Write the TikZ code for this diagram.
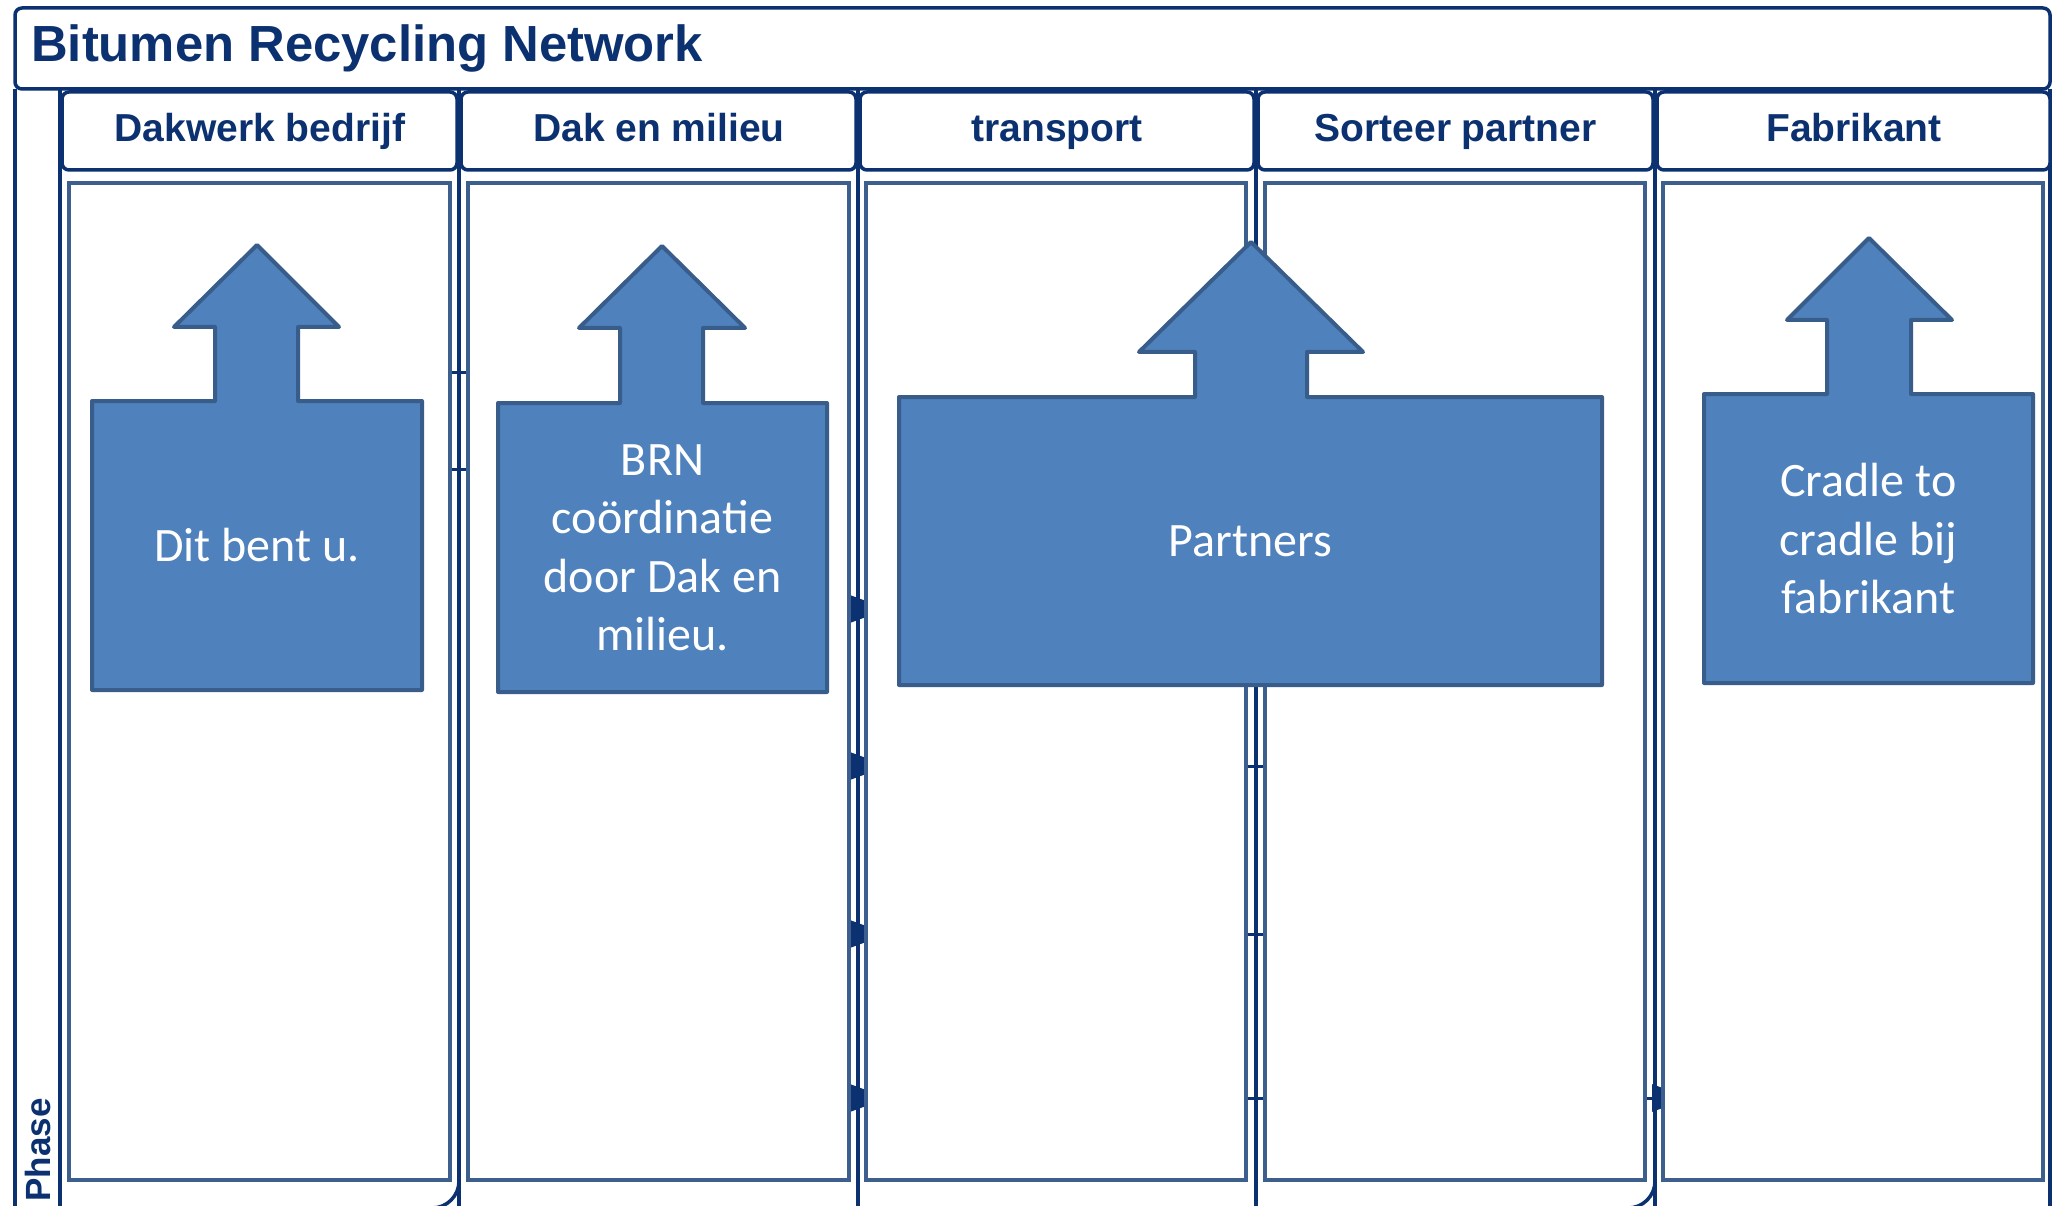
\documentclass[tikz,border=0pt]{standalone}
\usepackage{fontspec}
\setmainfont{Liberation Sans}
\newfontfamily\calib{Carlito}
\usetikzlibrary{arrows.meta}
\definecolor{navy}{HTML}{0B3170}
\definecolor{steel}{HTML}{3D5F8D}
\definecolor{cfill}{HTML}{4F81BD}
\definecolor{cline}{HTML}{385D8A}
\begin{document}
\begin{tikzpicture}[x=1pt,y=-1pt,
  laneline/.style={draw=navy,line width=3.5pt},
  hdr/.style={draw=navy,line width=3.5pt,rounded corners=7pt,fill=white},
  inbox/.style={draw=steel,line width=4.5pt,fill=white},
  callout/.style={draw=cline,line width=4pt,fill=cfill,line join=round},
  ctext/.style={text=white,font=\calib\fontsize{48}{58.5}\selectfont,align=center,inner sep=0pt},
  htext/.style={text=navy,font=\bfseries\fontsize{39}{46}\selectfont,anchor=base,inner sep=0pt},
  link/.style={draw=navy,line width=3pt},
  linkarrow/.style={link,-{Triangle[length=38pt,width=27pt]}},
]
\useasboundingbox (0,0) rectangle (2054,1206);
\fill[white] (0,0) rectangle (2054,1206);
\clip (0,0) rectangle (2054,1206);

% hidden connectors (only the parts between lanes show)
\coordinate (a1s) at (300,372);  \coordinate (a1e) at (620,372);
\coordinate (a2s) at (300,469);  \coordinate (a2e) at (620,469);
\coordinate (b1s) at (700,609);  \coordinate (b1e) at (888,609);
\coordinate (b2s) at (700,766);  \coordinate (b2e) at (888,766);
\coordinate (b3s) at (700,934);  \coordinate (b3e) at (888,934);
\coordinate (b4s) at (700,1098); \coordinate (b4e) at (888,1098);
\coordinate (c1s) at (1100,766); \coordinate (c1e) at (1400,766);
\coordinate (c2s) at (1100,934); \coordinate (c2e) at (1400,934);
\coordinate (c3s) at (1100,1098);\coordinate (c3e) at (1400,1098);
\coordinate (d1s) at (1500,1098);\coordinate (d1e) at (1690,1098);
\draw[link] (a1s) -- (a1e);
\draw[link] (a2s) -- (a2e);
\draw[linkarrow] (b1s) -- (b1e);
\draw[linkarrow] (b2s) -- (b2e);
\draw[linkarrow] (b3s) -- (b3e);
\draw[linkarrow] (b4s) -- (b4e);
\draw[link] (c1s) -- (c1e);
\draw[link] (c2s) -- (c2e);
\draw[link] (c3s) -- (c3e);
\draw[linkarrow] (d1s) -- (d1e);

% inner lane boxes
\draw[inbox] (69,183) rectangle (450,1180);
\draw[inbox] (468,183) rectangle (849,1180);
\draw[inbox] (866,183) rectangle (1246,1180);
\draw[inbox] (1265,183) rectangle (1645,1180);
\draw[inbox] (1663,183) rectangle (2043,1180);

% lane separators and pool frame
\foreach \xx in {15,60,459,858,1256,1655,2050}
  \draw[laneline] (\xx,89) -- (\xx,1240);
\draw[laneline,rounded corners=27pt] (459,1120) -- (459,1208) -- (380,1208);
\draw[laneline,rounded corners=27pt] (1655,1120) -- (1655,1208) -- (1580,1208);

% callouts
\path[callout] (92,401) -- (215,401) -- (215,327) -- (174,327) -- (257,245) -- (339,327) -- (298,327) -- (298,401) -- (422,401) -- (422,690) -- (92,690) -- cycle;
\path[callout] (498,403) -- (620,403) -- (620,328) -- (579,328) -- (662,246) -- (745,328) -- (703,328) -- (703,403) -- (827,403) -- (827,692) -- (498,692) -- cycle;
\path[callout] (899,397) -- (1195,397) -- (1195,352) -- (1139,352) -- (1251,242) -- (1363,352) -- (1307,352) -- (1307,397) -- (1602,397) -- (1602,685) -- (899,685) -- cycle;
\path[callout] (1704,394) -- (1827,394) -- (1827,320) -- (1787,320) -- (1869,238) -- (1952,320) -- (1911,320) -- (1911,394) -- (2033,394) -- (2033,683) -- (1704,683) -- cycle;
\node[ctext] (t1) at (257,545.5) {Dit bent u.};
\node[ctext] (t2) at (662.5,548) {BRN\\co\"ordinatie\\door Dak en\\milieu.};
\node[ctext] (t3) at (1250.5,541) {Partners};
\node[ctext] (t4) at (1868.5,539) {Cradle to\\cradle bij\\fabrikant};

% headers
\draw[hdr] (62,92) rectangle (457,170);
\draw[hdr] (461,92) rectangle (856,170);
\draw[hdr] (860,92) rectangle (1254,170);
\draw[hdr] (1258,92) rectangle (1653,170);
\draw[hdr] (1657,92) rectangle (2050,170);
\node[htext] (h1) at (260,142) {Dakwerk bedrijf};
\node[htext] (h2) at (659,142) {Dak en milieu};
\node[htext] (h3) at (1057,142) {transport};
\node[htext] (h4) at (1455.5,142) {Sorteer partner};
\node[htext] (h5) at (1854,142) {Fabrikant};

% title bar
\draw[hdr] (15,8) rectangle (2050,89);
\node[text=navy,font=\bfseries\fontsize{50.8}{60}\selectfont,anchor=base west,inner sep=0pt] (title) at (31,62) {Bitumen Recycling Network};

% phase label
\node[rotate=90,text=navy,font=\bfseries\fontsize{35}{42}\selectfont,inner sep=0pt] (phase) at (38,1150) {Phase};
\end{tikzpicture}
\end{document}
